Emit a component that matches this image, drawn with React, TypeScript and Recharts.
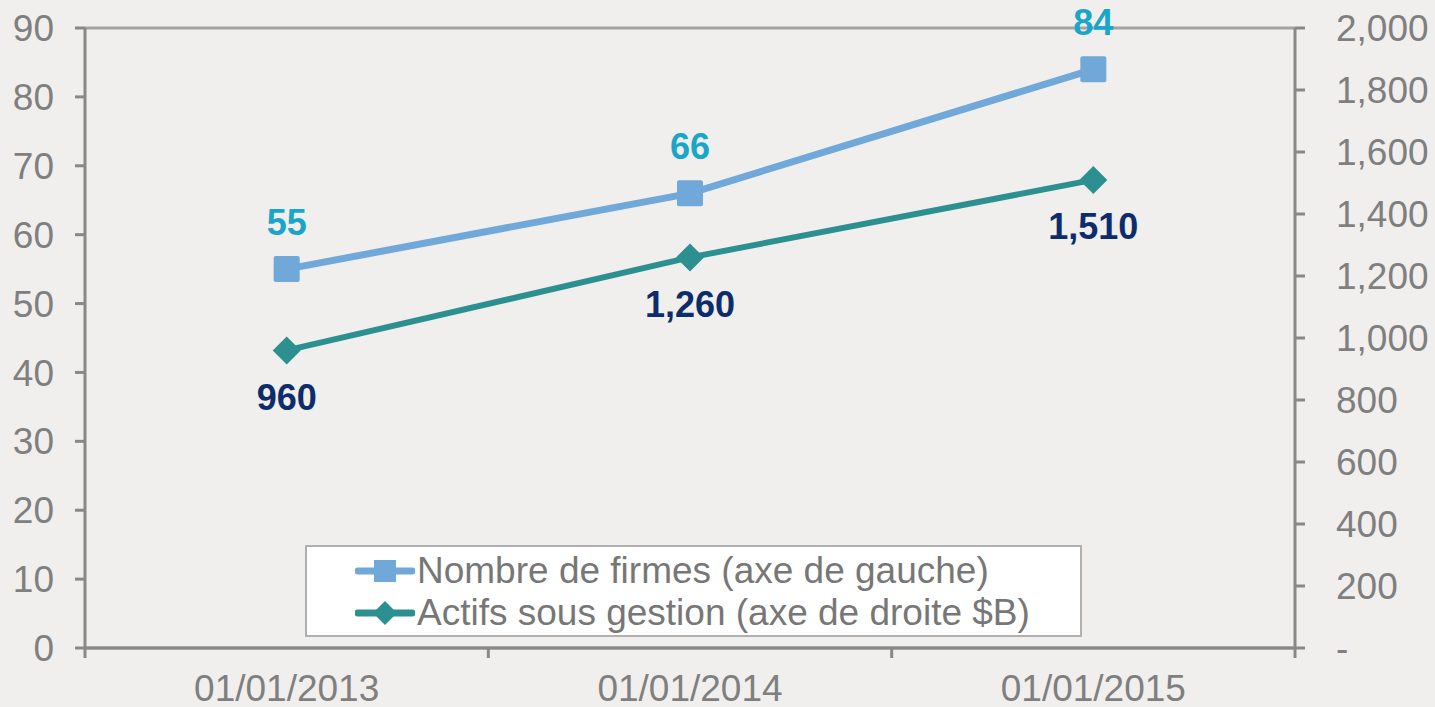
import { LineChart, Line, XAxis, YAxis, CartesianGrid, Legend } from 'recharts';

const dates = ['01/01/2013', '01/01/2014', '01/01/2015'];
const firmes = [55, 66, 84];
const actifs = [960, 1260, 1510];
const leftTicks = [0, 10, 20, 30, 40, 50, 60, 70, 80, 90];
const rightTicks = [0, 200, 400, 600, 800, 1000, 1200, 1400, 1600, 1800, 2000];

const data = dates.map((d, i) => ({ date: d, firmes: firmes[i], actifs: actifs[i] }));

const FONT = '"Liberation Sans", Arial, sans-serif';
const BLUE = '#6fa8d9';
const TEAL = '#2d9090';
const AXIS = '#888888';
const TICK_TEXT = '#7f7f7f';

const fmtRight = (v: number) => (v === 0 ? '-' : v.toLocaleString('en-US'));

const Square = (props: any) => {
  const { cx, cy } = props;
  if (cx == null || cy == null) return null;
  return <rect x={cx - 13} y={cy - 13} width={26} height={26} rx={2} fill={BLUE} />;
};

const Diamond = (props: any) => {
  const { cx, cy } = props;
  if (cx == null || cy == null) return null;
  const s = 14;
  return <polygon points={`${cx},${cy - s} ${cx + s},${cy} ${cx},${cy + s} ${cx - s},${cy}`} fill={TEAL} />;
};

const XTick = (props: any) => {
  const { x, y, payload, index } = props;
  const half = payload?.offset || 201.7;
  const last = index === dates.length - 1;
  return (
    <g>
      <line x1={x - half} x2={x - half} y1={y - 8} y2={y + 2} stroke={AXIS} strokeWidth={3} />
      {last && <line x1={x + half} x2={x + half} y1={y - 8} y2={y + 2} stroke={AXIS} strokeWidth={3} />}
      <text x={x} y={y + 45} textAnchor="middle" fontSize={37} fill={TICK_TEXT} fontFamily={FONT}>
        {payload.value}
      </text>
    </g>
  );
};

const topLabel = (props: any) => {
  const { x, y, value } = props;
  return (
    <text x={x} y={y - 47} textAnchor="middle" dominantBaseline="central" fontSize={36} fontWeight="bold" fill="#19a6c9" fontFamily={FONT}>
      {value}
    </text>
  );
};

const bottomLabel = (props: any) => {
  const { x, y, value } = props;
  return (
    <text x={x} y={y + 47} textAnchor="middle" dominantBaseline="central" fontSize={36} fontWeight="bold" fill="#0d2c6c" fontFamily={FONT}>
      {Number(value).toLocaleString('en-US')}
    </text>
  );
};

const legendItems = [
  { name: 'Nombre de firmes (axe de gauche)', color: BLUE, marker: 'square' },
  { name: 'Actifs sous gestion (axe de droite $B)', color: TEAL, marker: 'diamond' },
];

const LegendBox = () => (
  <div
    style={{
      width: 777,
      height: 92,
      boxSizing: 'border-box',
      background: '#ffffff',
      border: '2px solid #b0b0b0',
      padding: '3px 0 0 48px',
      fontFamily: FONT,
    }}
  >
    {legendItems.map((it) => (
      <div key={it.name} style={{ display: 'flex', alignItems: 'center', height: 42, fontSize: 37, color: '#777777', whiteSpace: 'nowrap' }}>
        <svg width={60} height={30} style={{ marginRight: 2 }}>
          <line x1={3} x2={57} y1={15} y2={15} stroke={it.color} strokeWidth={7} strokeLinecap="round" />
          {it.marker === 'square' ? (
            <rect x={19} y={4} width={22} height={22} fill={it.color} />
          ) : (
            <polygon points="30,3 42,15 30,27 18,15" fill={it.color} />
          )}
        </svg>
        {it.name}
      </div>
    ))}
  </div>
);

export default function App() {
  return (
    <div style={{ position: 'fixed', left: 0, top: 0, width: 1435, height: 707, background: '#f0efed' }}>
      <LineChart width={1435} height={707} data={data} margin={{ top: 28, right: 0, bottom: 0, left: 0 }}>
        <CartesianGrid horizontal vertical={false} stroke="#a3a3a3" strokeWidth={3} />
        <XAxis
          dataKey="date"
          scale="band"
          height={59}
          axisLine={{ stroke: AXIS, strokeWidth: 3 }}
          tickLine={false}
          tick={<XTick />}
          interval={0}
        />
        <YAxis
          yAxisId="left"
          orientation="left"
          width={85}
          domain={[0, 90]}
          ticks={leftTicks}
          interval={0}
          axisLine={{ stroke: AXIS, strokeWidth: 3 }}
          tickLine={{ stroke: AXIS, strokeWidth: 3 }}
          tickSize={10}
          tickMargin={21}
          tick={{ fontSize: 37, fill: TICK_TEXT, fontFamily: FONT }}
        />
        <YAxis
          yAxisId="right"
          orientation="right"
          width={140}
          domain={[0, 2000]}
          ticks={rightTicks}
          interval={0}
          tickFormatter={fmtRight}
          axisLine={{ stroke: AXIS, strokeWidth: 3 }}
          tickLine={{ stroke: AXIS, strokeWidth: 3 }}
          tickSize={10}
          tickMargin={31}
          tick={{ fontSize: 37, fill: TICK_TEXT, fontFamily: FONT }}
        />
        <Legend
          layout="horizontal"
          verticalAlign="middle"
          align="center"
          content={() => <LegendBox />}
          wrapperStyle={{ position: 'absolute', left: 305, top: 545, width: 777, height: 92 }}
        />
        <Line
          yAxisId="right"
          dataKey="actifs"
          stroke={TEAL}
          strokeWidth={6}
          dot={<Diamond />}
          activeDot={false}
          label={bottomLabel}
          isAnimationActive={false}
        />
        <Line
          yAxisId="left"
          dataKey="firmes"
          stroke={BLUE}
          strokeWidth={7}
          dot={<Square />}
          activeDot={false}
          label={topLabel}
          isAnimationActive={false}
        />
      </LineChart>
    </div>
  );
}
